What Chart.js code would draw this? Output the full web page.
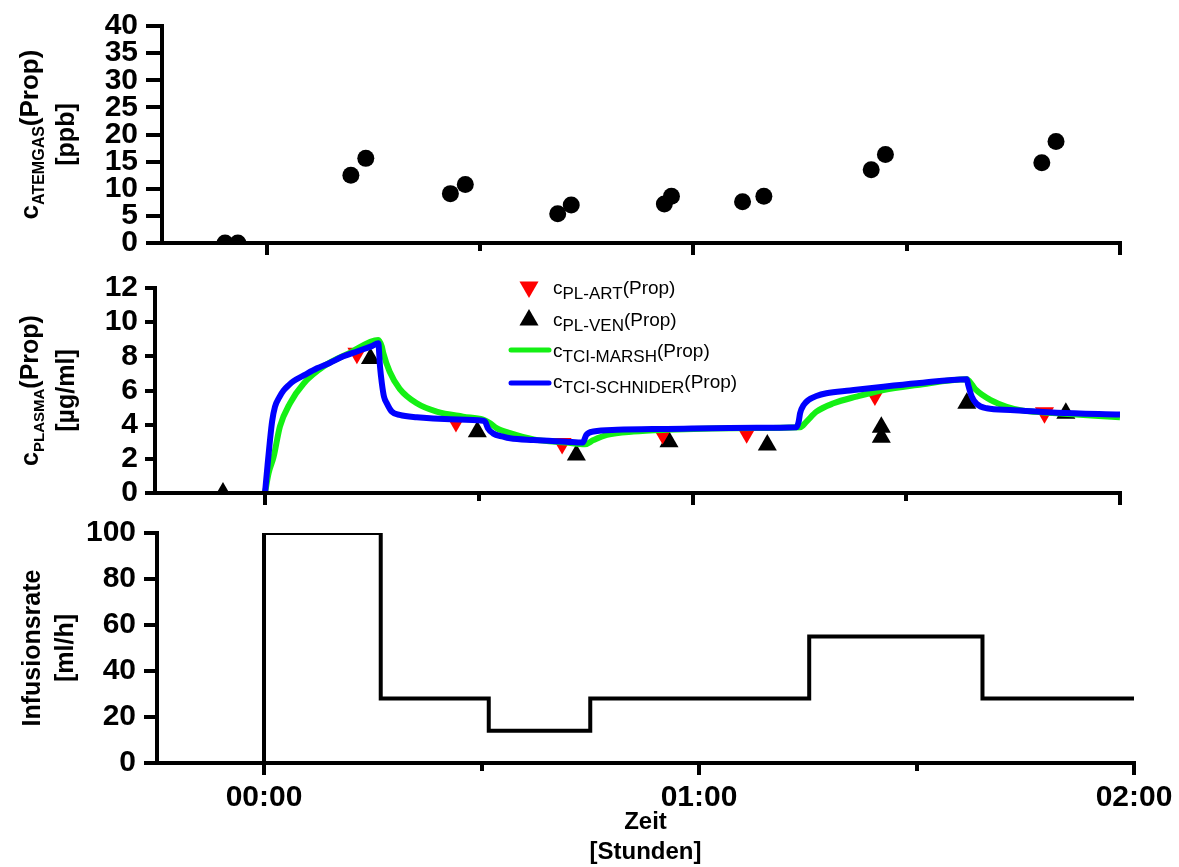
<!DOCTYPE html>
<html>
<head>
<meta charset="utf-8">
<title>Propofol: Atemgas, Plasma, Infusionsrate</title>
<script src="https://cdn.jsdelivr.net/npm/chart.js@4.4.0/dist/chart.umd.min.js"></script>
<style>
  html, body { margin: 0; padding: 0; background: #fff; }
  #wrap { position: relative; width: 1179px; height: 867px; overflow: hidden; }
  #wrap canvas { position: absolute; left: 0; top: 0; }
</style>
</head>
<body>
<div id="wrap">
  <canvas id="gas" width="1179" height="867"></canvas>
  <canvas id="plasma" width="1179" height="867"></canvas>
  <canvas id="rate" width="1179" height="867"></canvas>
</div>
<script>
// Times are minutes after start of the infusion (00:00)
const hourTicks = [0, 60, 120]
const hourLabels = ["00:00", "01:00", "02:00"]
const halfHourTicks = [30, 90]

// c ATEMGAS (ppb)
const gasTimes = [-5.9, -4.1, 11.8, 13.9, 25.8, 27.9, 40.9, 42.8, 55.9, 56.9, 66.9, 69.9, 85.0, 87.0, 109.0, 111.0]
const gasValues = [0, 0, 12.5, 15.6, 9.1, 10.8, 5.4, 7.0, 7.2, 8.6, 7.6, 8.6, 13.5, 16.3, 14.8, 18.7]

// c PL-ART / c PL-VEN measured (µg/ml)
const artTimes = [12.9, 26.8, 41.7, 55.8, 67.6, 85.6, 109.4]
const artValues = [8.18, 4.18, 2.9, 3.49, 3.53, 5.74, 4.7]
const venTimes = [-5.9, 14.8, 29.8, 43.7, 56.7, 70.5, 86.5, 86.5, 98.5, 112.4]
const venValues = [0, 7.88, 3.59, 2.22, 3.0, 2.81, 3.85, 3.26, 5.25, 4.67]

// TCI model curves (µg/ml)
const marshTimes = [0, 0.5, 1.2, 2.1, 3.5, 5.4, 8.2, 11.9, 15.9, 16.4, 16.6, 17.5, 18.9, 21.3, 24.1, 27.8, 30.6, 31.6, 32.5, 34.4,
  37.7, 42.3, 44.9, 46.1, 48.0, 51.7, 56.4, 69.0, 75.1, 76.0, 77.4, 79.8, 83.0, 86.8, 91.5, 98.5, 99.2, 99.8, 101.8, 104.1,
  106.4, 111.1, 120]
const marshValues = [0, 1.15, 2.1, 3.9, 5.25, 6.4, 7.4, 8.2, 8.96, 8.57, 8.2, 7.1, 6.1, 5.25, 4.76, 4.47, 4.3, 4.08, 3.8, 3.5,
  3.14, 2.95, 2.85, 3.1, 3.4, 3.6, 3.7, 3.8, 3.85, 4.18, 4.76, 5.25, 5.64, 6.03, 6.32, 6.66, 6.35, 6.03, 5.45, 5.05,
  4.82, 4.67, 4.43]
const schniderTimes = [0, 0.35, 0.7, 1.0, 1.4, 2.0, 2.6, 3.3, 4.0, 5.5, 7.3, 9.0, 11.0, 13.0, 15.0, 15.9, 16.14, 16.4, 16.7, 17.1,
  17.8, 18.9, 21.3, 26.0, 30.6, 30.9, 31.3, 32.0, 33.4, 34.4, 37.7, 42.3, 44.6, 45.1, 46.1, 49.4, 56.4, 69.0, 74.6, 74.9,
  75.1, 75.6, 76.3, 77.4, 78.8, 82.1, 86.8, 91.5, 98.5, 98.7, 99.2, 99.9, 101.3, 104.6, 106.4, 111.1, 120]
const schniderValues = [0, 1.6, 3.1, 4.2, 5.05, 5.6, 6.0, 6.3, 6.55, 6.9, 7.3, 7.6, 8.0, 8.3, 8.6, 8.76, 7.4, 6.42, 5.64, 5.25,
  4.76, 4.57, 4.43, 4.31, 4.23, 4.17, 3.78, 3.49, 3.3, 3.2, 3.1, 3.0, 2.95, 3.4, 3.6, 3.7, 3.75, 3.82, 3.85, 4.18,
  4.67, 5.15, 5.45, 5.68, 5.84, 6.0, 6.22, 6.42, 6.66, 6.32, 5.64, 5.21, 4.96, 4.86, 4.82, 4.7, 4.6]

// Infusionsrate (ml/h), each value holds from its time on
const rateTimes = [-14.76, 0, 16.1, 31.0, 45.0, 75.2, 99.1, 120]
const rateValues = [0, 100, 28, 14, 28, 55, 28, 28]

const FAMILY = "'Liberation Sans', Arial, sans-serif"
const RED = "#ff0000"
const GREEN = "#14f014"
const BLUE = "#0000ff"

const points = (xs, ys) => xs.map((x, i) => ({ x, y: ys[i] }))
const cssFont = (size, bold) => `${bold ? "bold " : ""}${size}px ${FAMILY}`

// Rotated y axis titles with sub-scripted parts
function axisTitles (lines) {
  return {
    id: "axisTitles",
    afterDraw (chart) {
      const { ctx, chartArea } = chart
      const cy = (chartArea.top + chartArea.bottom) / 2
      for (const line of lines) {
        ctx.save()
        ctx.translate(line.x, cy)
        ctx.rotate(-Math.PI / 2)
        ctx.fillStyle = "#000"
        ctx.textBaseline = "alphabetic"
        const parts = line.parts.map(p => {
          ctx.font = cssFont(p.size, true)
          return { ...p, w: ctx.measureText(p.text).width }
        })
        let x = -parts.reduce((s, p) => s + p.w, 0) / 2
        for (const p of parts) {
          ctx.font = cssFont(p.size, true)
          ctx.fillText(p.text, x, p.dy || 0)
          x += p.w
        }
        ctx.restore()
      }
    }
  }
}

// Shorter unlabeled ticks at the half hours
function halfHourMarks (length) {
  return {
    id: "halfHourMarks",
    afterDraw (chart) {
      const { ctx, chartArea, scales } = chart
      ctx.save()
      ctx.strokeStyle = "#000"
      ctx.lineWidth = 4
      for (const t of halfHourTicks) {
        const px = Math.round(scales.x.getPixelForValue(t))
        ctx.beginPath()
        ctx.moveTo(px, chartArea.bottom)
        ctx.lineTo(px, chartArea.bottom + 2 + length)
        ctx.stroke()
      }
      ctx.restore()
    }
  }
}

// Legend of the plasma panel
const legendRows = [
  { marker: "down", color: RED, sub: "PL-ART", base: 294, my: 287 },
  { marker: "up", color: "#000", sub: "PL-VEN", base: 326, my: 320 },
  { marker: "line", color: GREEN, sub: "TCI-MARSH", base: 357, my: 350 },
  { marker: "line", color: BLUE, sub: "TCI-SCHNIDER", base: 388, my: 383 }
]
const plasmaLegend = {
  id: "plasmaLegend",
  afterDraw (chart) {
    const { ctx } = chart
    ctx.save()
    for (const row of legendRows) {
      ctx.fillStyle = row.color
      ctx.strokeStyle = row.color
      if (row.marker === "line") {
        ctx.lineWidth = 5
        ctx.lineCap = "round"
        ctx.beginPath()
        ctx.moveTo(511, row.my)
        ctx.lineTo(549, row.my)
        ctx.stroke()
      } else {
        const r = 11
        const s = row.marker === "down" ? -1 : 1
        ctx.beginPath()
        ctx.moveTo(529, row.my - s * r)
        ctx.lineTo(529 + r * 0.866, row.my + s * r / 2)
        ctx.lineTo(529 - r * 0.866, row.my + s * r / 2)
        ctx.closePath()
        ctx.fill()
      }
      ctx.fillStyle = "#000"
      ctx.textBaseline = "alphabetic"
      let x = 553
      ctx.font = cssFont(19)
      ctx.fillText("c", x, row.base)
      x += ctx.measureText("c").width
      ctx.font = cssFont(17)
      ctx.fillText(row.sub, x, row.base + 5)
      x += ctx.measureText(row.sub).width
      ctx.font = cssFont(19)
      ctx.fillText("(Prop)", x, row.base)
    }
    ctx.restore()
  }
}

function timeAxis (min, height, tickLength, labelled) {
  return {
    type: "linear",
    position: "bottom",
    min,
    max: 120,
    afterBuildTicks: axis => { axis.ticks = hourTicks.map(value => ({ value })) },
    afterFit: axis => { axis.height = height },
    border: { display: true, color: "#000", width: 4, z: 1 },
    grid: { drawOnChartArea: false, drawTicks: true, tickLength, lineWidth: 4, color: "#000", tickColor: "#000" },
    ticks: {
      display: labelled,
      autoSkip: false,
      maxRotation: 0,
      padding: 5,
      color: "#000",
      font: { family: FAMILY, size: 30, weight: "bold" },
      callback: v => hourLabels[hourTicks.indexOf(v)] ?? ""
    },
    title: labelled
      ? { display: true, text: ["Zeit", "[Stunden]"], color: "#000", padding: 0,
          font: { family: FAMILY, size: 24, weight: "bold", lineHeight: 1.25 } }
      : { display: false }
  }
}

function valueAxis (max, stepSize, width, tickLength, padding) {
  return {
    type: "linear",
    position: "left",
    min: 0,
    max,
    afterFit: axis => { axis.width = width },
    border: { display: true, color: "#000", width: 4, z: 1 },
    grid: { drawOnChartArea: false, drawTicks: true, tickLength, lineWidth: 4, color: "#000", tickColor: "#000" },
    ticks: { stepSize, autoSkip: false, padding, color: "#000", font: { family: FAMILY, size: 30, weight: "bold" } }
  }
}

function baseOptions (padding, scales) {
  return {
    responsive: false,
    animation: false,
    events: [],
    layout: { autoPadding: false, padding },
    plugins: { legend: { display: false }, tooltip: { enabled: false } },
    scales
  }
}

new Chart(document.getElementById("gas"), {
  type: "scatter",
  data: {
    datasets: [{
      data: points(gasTimes, gasValues),
      pointRadius: 8.5,
      pointBackgroundColor: "#000",
      pointBorderWidth: 0
    }]
  },
  options: baseOptions({ left: 0, top: 25, right: 59, bottom: 867 - 243 - 20 }, {
    x: timeAxis(-14.77, 20, 12, false),
    y: valueAxis(40, 5, 162, 16, 8)
  }),
  plugins: [halfHourMarks(6), axisTitles([
    { x: 38, parts: [{ text: "c", size: 26 }, { text: "ATEMGAS", size: 16, dy: 6 }, { text: "(Prop)", size: 26 }] },
    { x: 74, parts: [{ text: "[ppb]", size: 25 }] }
  ])]
})

new Chart(document.getElementById("plasma"), {
  type: "scatter",
  data: {
    datasets: [
      { label: "cTCI-SCHNIDER(Prop)", data: points(schniderTimes, schniderValues), showLine: true, order: 0,
        borderColor: BLUE, borderWidth: 6, pointRadius: 0, cubicInterpolationMode: "monotone", borderJoinStyle: "round" },
      { label: "cTCI-MARSH(Prop)", data: points(marshTimes, marshValues), showLine: true, order: 1,
        borderColor: GREEN, borderWidth: 6, pointRadius: 0, cubicInterpolationMode: "monotone", borderJoinStyle: "round" },
      { label: "cPL-ART(Prop)", data: points(artTimes, artValues), order: 2,
        pointStyle: "triangle", rotation: 180, pointRadius: 11, pointBackgroundColor: RED, pointBorderWidth: 0 },
      { label: "cPL-VEN(Prop)", data: points(venTimes, venValues), order: 3,
        pointStyle: "triangle", pointRadius: 11, pointBackgroundColor: "#000", pointBorderWidth: 0 }
    ]
  },
  options: baseOptions({ left: 0, top: 288, right: 59, bottom: 867 - 493 - 20 }, {
    x: timeAxis(-15.44, 20, 12, false),
    y: valueAxis(12, 2, 155, 10, 7)
  }),
  plugins: [halfHourMarks(6), plasmaLegend, axisTitles([
    { x: 38, parts: [{ text: "c", size: 25 }, { text: "PLASMA", size: 15, dy: 6 }, { text: "(Prop)", size: 25 }] },
    { x: 74, parts: [{ text: "[µg/ml]", size: 25 }] }
  ])]
})

new Chart(document.getElementById("rate"), {
  type: "scatter",
  data: {
    datasets: [{
      data: points(rateTimes, rateValues),
      showLine: true,
      stepped: "before",
      borderColor: "#000",
      borderWidth: 4,
      pointRadius: 0
    }]
  },
  options: baseOptions({ left: 0, top: 533, right: 45, bottom: 0 }, {
    x: timeAxis(-14.76, 867 - 763, 12, true),
    y: valueAxis(100, 20, 157, 13, 8)
  }),
  plugins: [halfHourMarks(6), axisTitles([
    { x: 40, parts: [{ text: "Infusionsrate", size: 25 }] },
    { x: 73, parts: [{ text: "[ml/h]", size: 25 }] }
  ])]
})
</script>
</body>
</html>
